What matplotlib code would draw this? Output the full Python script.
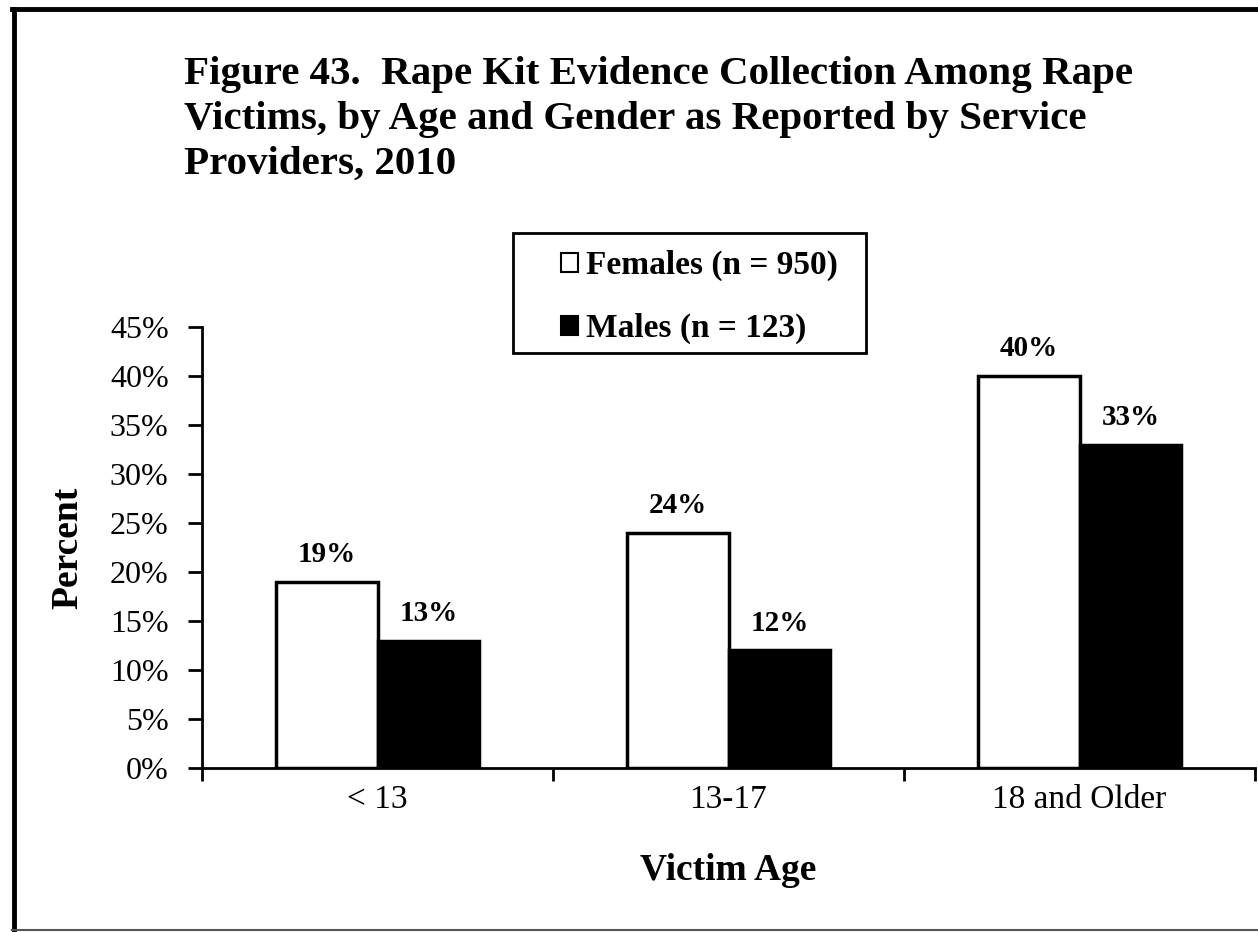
import matplotlib
matplotlib.use("Agg")
import matplotlib.pyplot as plt
from matplotlib.patches import Patch, Rectangle
from matplotlib.lines import Line2D
import numpy as np

categories = ["< 13", "13-17", "18 and Older"]
females = [19, 24, 40]
males = [13, 12, 33]
series_labels = ["Females (n = 950)", "Males (n = 123)"]
yticks = [0, 5, 10, 15, 20, 25, 30, 35, 40, 45]
title = ("Figure 43.  Rape Kit Evidence Collection Among Rape\n"
         "Victims, by Age and Gender as Reported by Service\n"
         "Providers, 2010")

plt.rcParams['font.family'] = ['Liberation Serif', 'DejaVu Serif']

fig = plt.figure(figsize=(12.58, 9.32), dpi=100)
W, H = 1258, 932
ax = fig.add_axes([202 / W, 1 - 768 / H, (1255 - 202) / W, (768 - 327) / H])

x = np.arange(len(categories))
bw = 0.29
b1 = ax.bar(x - bw / 2, females, bw, color='white', edgecolor='black', linewidth=2.5, zorder=3)
b2 = ax.bar(x + bw / 2, males, bw, color='black', edgecolor='black', linewidth=2.5, zorder=3)

for bars, vals in ((b1, females), (b2, males)):
    for r, v in zip(bars, vals):
        ax.annotate(f"{v}%", (r.get_x() + r.get_width() / 2, v), xytext=(0, 10),
                    textcoords='offset points', ha='center', va='bottom',
                    fontsize=21, fontweight='bold')

ax.set_xlim(-0.5, len(categories) - 0.5)
ax.set_ylim(0, 45)
ax.set_yticks(yticks)
ax.set_yticklabels([f"{t}%" for t in yticks], fontsize=23)
ax.set_xticks(np.arange(len(categories) + 1) - 0.5)
ax.set_xticklabels([])
ax.set_xticks(x, minor=True)
ax.set_xticklabels(categories, minor=True, fontsize=24)
ax.tick_params(axis='x', which='major', direction='out', length=9, width=2)
ax.tick_params(axis='x', which='minor', length=0, pad=12)
ax.tick_params(axis='y', direction='out', length=10, width=2, pad=14)
for s in ('top', 'right'):
    ax.spines[s].set_visible(False)
for s in ('left', 'bottom'):
    ax.spines[s].set_linewidth(2)

ax.set_ylabel("Percent", fontsize=27, fontweight='bold', labelpad=18)
ax.set_xlabel("Victim Age", fontsize=27, fontweight='bold', labelpad=27)

fig.text(184 / W, 1 - 56 / H, title, fontsize=29.5, fontweight='bold',
         ha='left', va='top', linespacing=1.28)

# legend frame
fig.add_artist(Rectangle((513 / W, 1 - 353 / H), (866 - 513) / W, (353 - 233) / H,
                         transform=fig.transFigure, facecolor='white', edgecolor='black', lw=2))
handles = [Patch(facecolor='white', edgecolor='black', linewidth=1.5),
           Patch(facecolor='black', edgecolor='black', linewidth=1.5)]
leg = fig.legend(handles, series_labels, loc='upper left',
                 bbox_to_anchor=(561 / W, 1 - 250 / H), bbox_transform=fig.transFigure,
                 frameon=False, prop={'size': 24, 'weight': 'bold'},
                 handlelength=0.5, handleheight=0.5,
                 handletextpad=0.25, labelspacing=0.95, borderpad=0, borderaxespad=0)

fig.add_artist(Line2D([14 / W, 14 / W], [0, 1 - 9 / H], transform=fig.transFigure, color='black', lw=3.5))
fig.add_artist(Line2D([12 / W, 1], [1 - 9 / H, 1 - 9 / H], transform=fig.transFigure, color='black', lw=3.5))
fig.add_artist(Line2D([12 / W, 1], [1 - 930 / H, 1 - 930 / H], transform=fig.transFigure, color='#555555', lw=1.5))

fig.savefig("out.png", dpi=100)
